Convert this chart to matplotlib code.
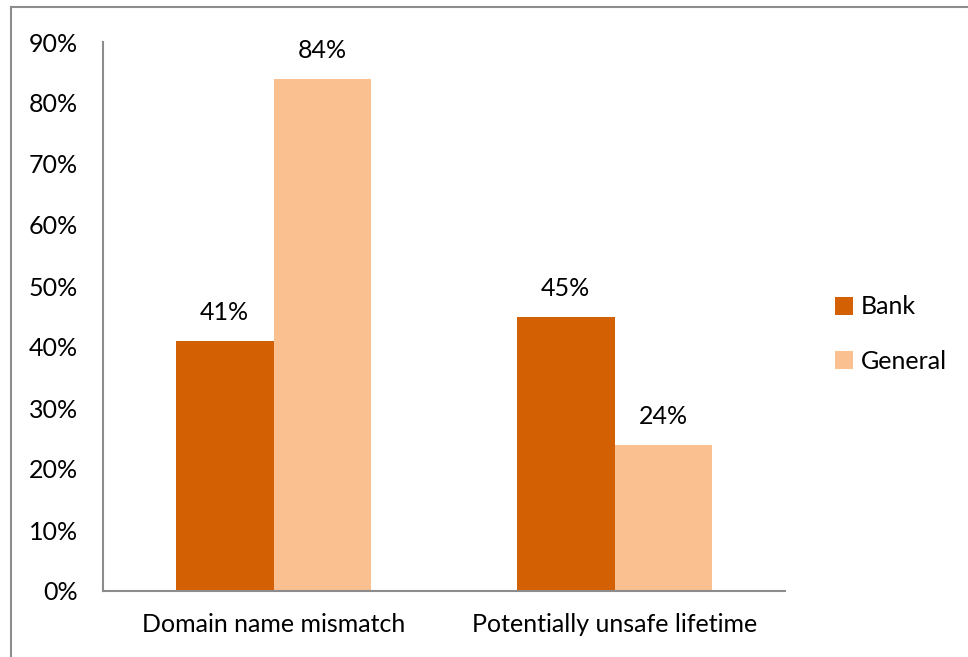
import matplotlib
matplotlib.use('agg')
import matplotlib.pyplot as plt
from matplotlib.lines import Line2D
from matplotlib.ticker import PercentFormatter

categories = ['Domain name mismatch', 'Potentially unsafe lifetime']
bank = [41, 45]
general = [84, 24]
series_names = ['Bank', 'General']
colors = ['#D46004', '#FAC090']

plt.rcParams['font.family'] = ['Lato', 'DejaVu Sans']

fig = plt.figure(figsize=(9.68, 6.57), dpi=100)
ax = fig.add_axes([103 / 968, 1 - 591 / 657, 682 / 968, 549 / 657])

# outer frame (only left and top visible in the reference)
frame_col = '#8C8C8C'
fig.add_artist(Line2D([11 / 968, 11 / 968], [0, 1 - 7 / 657], color=frame_col, lw=1.5))
fig.add_artist(Line2D([11 / 968, 1], [1 - 7 / 657, 1 - 7 / 657], color=frame_col, lw=1.5))

x = [0, 1]
w = 0.286
bars_b = ax.bar([i - w / 2 for i in x], bank, width=w, color=colors[0], label=series_names[0])
bars_g = ax.bar([i + w / 2 for i in x], general, width=w, color=colors[1], label=series_names[1])

fs = 18
for bars, vals in [(bars_b, bank), (bars_g, general)]:
    for b, v in zip(bars, vals):
        ax.annotate(f'{v}%', (b.get_x() + b.get_width() / 2, v), xytext=(0, 12),
                    textcoords='offset points', ha='center', va='bottom', fontsize=fs)

ax.set_xlim(-0.5, 1.5)
ax.set_ylim(0, 90)
ax.set_yticks(range(0, 91, 10))
ax.yaxis.set_major_formatter(PercentFormatter(decimals=0))
ax.set_xticks(x)
ax.set_xticklabels(categories)
ax.tick_params(axis='y', length=0, pad=18, labelsize=fs)
ax.tick_params(axis='x', length=0, pad=16, labelsize=fs)

for s in ['top', 'right']:
    ax.spines[s].set_visible(False)
for s in ['left', 'bottom']:
    ax.spines[s].set_color('#8C8C8C')
    ax.spines[s].set_linewidth(1.5)

ax.legend(loc='center left', bbox_to_anchor=(812 / 968, 1 - 334 / 657),
          bbox_transform=fig.transFigure, frameon=False, fontsize=fs,
          handlelength=0.75, handleheight=0.75, handletextpad=0.3, labelspacing=1.25)

fig.savefig('out.png', dpi=100)
